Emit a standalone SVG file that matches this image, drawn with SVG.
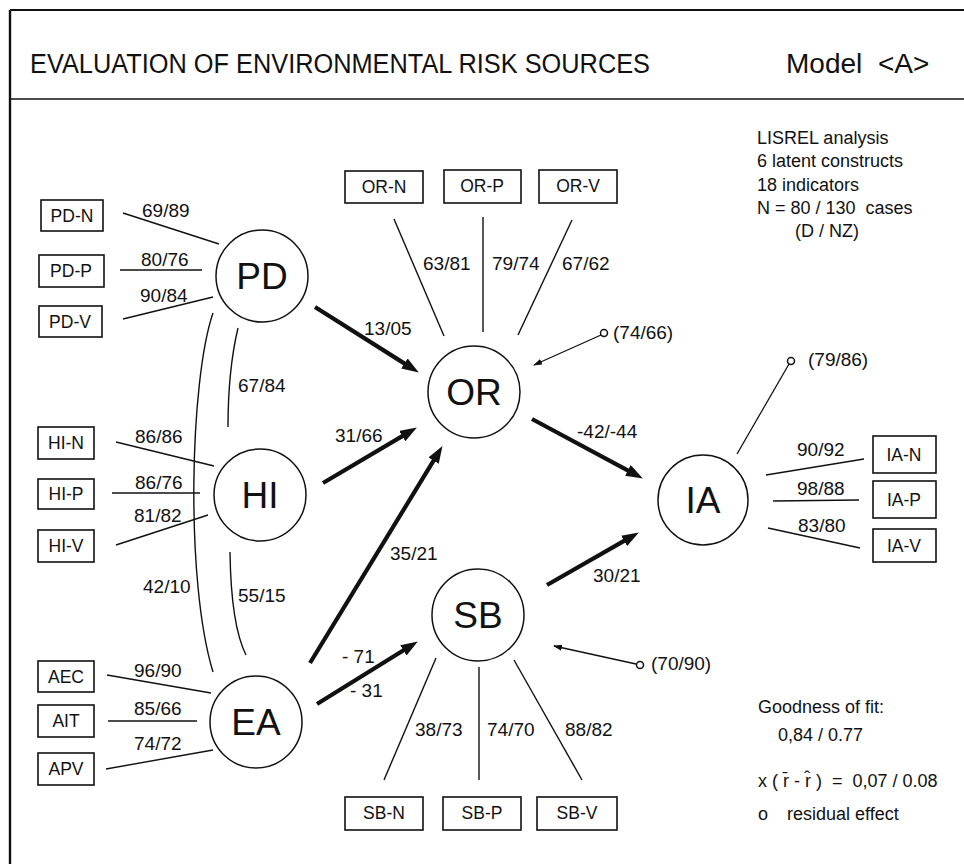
<svg xmlns="http://www.w3.org/2000/svg" width="964" height="864" viewBox="0 0 964 864">
<style>
text{font-family:"Liberation Sans",Arial,sans-serif;fill:#111}
.frame{stroke:#111;fill:none}
.box{fill:#fff;stroke:#111;stroke-width:1.6}
.bt{font-size:17.5px;text-anchor:middle}
.node{fill:#fff;stroke:#111;stroke-width:1.5}
.nt{font-size:37px;text-anchor:middle}
.lab{font-size:19px}
.side{font-size:18px}
.thin{stroke:#111;stroke-width:1.4;fill:none}
.thick{stroke:#111;stroke-width:4.2;fill:none;marker-end:url(#ah)}
.res{stroke:#111;stroke-width:1.3;fill:none}
.dot{fill:#fff;stroke:#111;stroke-width:1.5}
</style>
<defs>
<marker id="ah" markerUnits="userSpaceOnUse" markerWidth="18" markerHeight="12" refX="4" refY="6" orient="auto">
<path d="M0,0 L17,6 L0,12 z" fill="#111"/>
</marker>
<marker id="sh" markerUnits="userSpaceOnUse" markerWidth="10" markerHeight="6" refX="8" refY="3" orient="auto">
<path d="M0,0 L9,3 L0,6 z" fill="#111"/>
</marker>
</defs>
<rect width="964" height="864" fill="#fff"/>
<g id="frame">
<line class="frame" x1="10" y1="10" x2="964" y2="10" stroke-width="1.8"/>
<line class="frame" x1="10" y1="10" x2="10" y2="864" stroke-width="2.4"/>
<line class="frame" x1="10" y1="99" x2="964" y2="99" stroke-width="1.6"/>
<text x="30" y="73" font-size="27" textLength="620" lengthAdjust="spacingAndGlyphs">EVALUATION OF ENVIRONMENTAL RISK SOURCES</text>
<text x="786" y="73" font-size="28">Model</text>
<text x="878" y="73" font-size="28">&lt;A&gt;</text>
</g>
<g id="info">
<text class="side" x="757" y="144">LISREL analysis</text>
<text class="side" x="757" y="167">6 latent constructs</text>
<text class="side" x="757" y="191">18 indicators</text>
<text class="side" x="757" y="214" xml:space="preserve">N = 80 / 130  cases</text>
<text class="side" x="795" y="237">(D / NZ)</text>
<text class="side" x="758" y="713">Goodness of fit:</text>
<text class="side" x="778" y="741">0,84 / 0.77</text>
<text class="side" x="758" y="787" xml:space="preserve">x ( r̄ - r̂ )  =  0,07 / 0.08</text>
<text class="side" x="758" y="820">o</text>
<text class="side" x="787" y="820">residual effect</text>
</g>
<g id="connectors">
<line class="thin" x1="123" y1="213" x2="219" y2="244"/>
<line class="thin" x1="120" y1="270" x2="202" y2="270"/>
<line class="thin" x1="123" y1="319" x2="213" y2="297"/>
<line class="thin" x1="116" y1="442" x2="214" y2="466"/>
<line class="thin" x1="112" y1="493" x2="200" y2="493"/>
<line class="thin" x1="116" y1="545" x2="208" y2="515"/>
<line class="thin" x1="107" y1="675" x2="211" y2="693"/>
<line class="thin" x1="108" y1="721" x2="197" y2="721"/>
<line class="thin" x1="106" y1="769" x2="213" y2="750"/>
<path class="thin" d="M213,313 C190,380 185,580 213,672"/>
<path class="thin" d="M238,328 Q228,370 228,427"/>
<path class="thin" d="M230,552 Q231,625 246,655"/>
<line class="thin" x1="394" y1="219" x2="444" y2="336"/>
<line class="thin" x1="483" y1="217" x2="483" y2="332"/>
<line class="thin" x1="572" y1="220" x2="518" y2="335"/>
<line class="thin" x1="436" y1="658" x2="384" y2="780"/>
<line class="thin" x1="479" y1="667" x2="479" y2="780"/>
<line class="thin" x1="514" y1="660" x2="582" y2="780"/>
<line class="thin" x1="766" y1="475" x2="864" y2="459"/>
<line class="thin" x1="773" y1="501" x2="859" y2="500"/>
<line class="thin" x1="768" y1="528" x2="860" y2="548"/>
<line class="thick" x1="315" y1="307" x2="407.8" y2="365.6"/>
<line class="thick" x1="323" y1="483" x2="405.7" y2="434.1"/>
<line class="thick" x1="310" y1="663" x2="435.7" y2="457.2"/>
<line class="thick" x1="317" y1="704" x2="406.8" y2="648.3"/>
<line class="thick" x1="532" y1="419" x2="631.4" y2="472.3"/>
<line class="thick" x1="547" y1="585" x2="627.6" y2="538.9"/>
<line class="res" x1="601" y1="335" x2="534" y2="365" marker-end="url(#sh)"/>
<line class="res" x1="636" y1="664" x2="554" y2="646" marker-end="url(#sh)"/>
<line class="res" x1="789" y1="364" x2="737" y2="454"/>
<circle class="dot" cx="604" cy="333" r="3.5"/>
<circle class="dot" cx="640" cy="665" r="3.5"/>
<circle class="dot" cx="791" cy="361" r="3.5"/>
<text class="lab" x="142" y="217">69/89</text>
<text class="lab" x="141" y="266">80/76</text>
<text class="lab" x="140" y="302">90/84</text>
<text class="lab" x="238" y="392">67/84</text>
<text class="lab" x="135" y="443">86/86</text>
<text class="lab" x="135" y="489">86/76</text>
<text class="lab" x="134" y="522">81/82</text>
<text class="lab" x="143" y="593">42/10</text>
<text class="lab" x="238" y="602">55/15</text>
<text class="lab" x="134" y="677">96/90</text>
<text class="lab" x="134" y="715">85/66</text>
<text class="lab" x="134" y="750">74/72</text>
<text class="lab" x="423" y="270">63/81</text>
<text class="lab" x="492" y="270">79/74</text>
<text class="lab" x="562" y="270">67/62</text>
<text class="lab" x="364" y="335">13/05</text>
<text class="lab" x="335" y="442">31/66</text>
<text class="lab" x="390" y="560">35/21</text>
<text class="lab" x="577" y="438">-42/-44</text>
<text class="lab" x="593" y="582">30/21</text>
<text class="lab" x="342" y="663">- 71</text>
<text class="lab" x="350" y="697">- 31</text>
<text class="lab" x="415" y="736">38/73</text>
<text class="lab" x="487" y="736">74/70</text>
<text class="lab" x="565" y="736">88/82</text>
<text class="lab" x="797" y="456">90/92</text>
<text class="lab" x="797" y="495">98/88</text>
<text class="lab" x="798" y="532">83/80</text>
<text class="lab" x="613" y="339">(74/66)</text>
<text class="lab" x="651" y="670">(70/90)</text>
<text class="lab" x="808" y="366">(79/86)</text>
</g>
<g id="PD"><circle class="node" cx="262" cy="276" r="46"/><text class="nt" x="262" y="289">PD</text></g>
<g id="HI"><circle class="node" cx="260" cy="495" r="46"/><text class="nt" x="260" y="508">HI</text></g>
<g id="EA"><circle class="node" cx="256" cy="722" r="46"/><text class="nt" x="256" y="735">EA</text></g>
<g id="OR"><circle class="node" cx="474" cy="392" r="46"/><text class="nt" x="474" y="405">OR</text></g>
<g id="SB"><circle class="node" cx="478" cy="615" r="46"/><text class="nt" x="478" y="628">SB</text></g>
<g id="IA"><circle class="node" cx="703" cy="500" r="45"/><text class="nt" x="703" y="513">IA</text></g>
<g id="PD-N"><rect class="box" x="41" y="200" width="62" height="31"/><text class="bt" x="72" y="222">PD-N</text></g>
<g id="PD-P"><rect class="box" x="39" y="255" width="65" height="32"/><text class="bt" x="71" y="277">PD-P</text></g>
<g id="PD-V"><rect class="box" x="39" y="306" width="63" height="31"/><text class="bt" x="70" y="328">PD-V</text></g>
<g id="HI-N"><rect class="box" x="38" y="427" width="56" height="32"/><text class="bt" x="66" y="449">HI-N</text></g>
<g id="HI-P"><rect class="box" x="38" y="479" width="56" height="30"/><text class="bt" x="66" y="500">HI-P</text></g>
<g id="HI-V"><rect class="box" x="38" y="530" width="56" height="32"/><text class="bt" x="66" y="552">HI-V</text></g>
<g id="AEC"><rect class="box" x="38" y="661" width="56" height="31"/><text class="bt" x="66" y="683">AEC</text></g>
<g id="AIT"><rect class="box" x="38" y="705" width="56" height="32"/><text class="bt" x="66" y="727">AIT</text></g>
<g id="APV"><rect class="box" x="38" y="753" width="56" height="32"/><text class="bt" x="66" y="775">APV</text></g>
<g id="OR-N"><rect class="box" x="345" y="171" width="78" height="32"/><text class="bt" x="384" y="193">OR-N</text></g>
<g id="OR-P"><rect class="box" x="444" y="170" width="77" height="33"/><text class="bt" x="482" y="192">OR-P</text></g>
<g id="OR-V"><rect class="box" x="539" y="170" width="78" height="33"/><text class="bt" x="578" y="192">OR-V</text></g>
<g id="SB-N"><rect class="box" x="345" y="797" width="78" height="33"/><text class="bt" x="384" y="819">SB-N</text></g>
<g id="SB-P"><rect class="box" x="443" y="797" width="78" height="33"/><text class="bt" x="482" y="819">SB-P</text></g>
<g id="SB-V"><rect class="box" x="537" y="797" width="80" height="33"/><text class="bt" x="577" y="819">SB-V</text></g>
<g id="IA-N"><rect class="box" x="873" y="436" width="63" height="37"/><text class="bt" x="904" y="461">IA-N</text></g>
<g id="IA-P"><rect class="box" x="873" y="481" width="63" height="37"/><text class="bt" x="904" y="506">IA-P</text></g>
<g id="IA-V"><rect class="box" x="873" y="529" width="63" height="33"/><text class="bt" x="904" y="552">IA-V</text></g>
</svg>
